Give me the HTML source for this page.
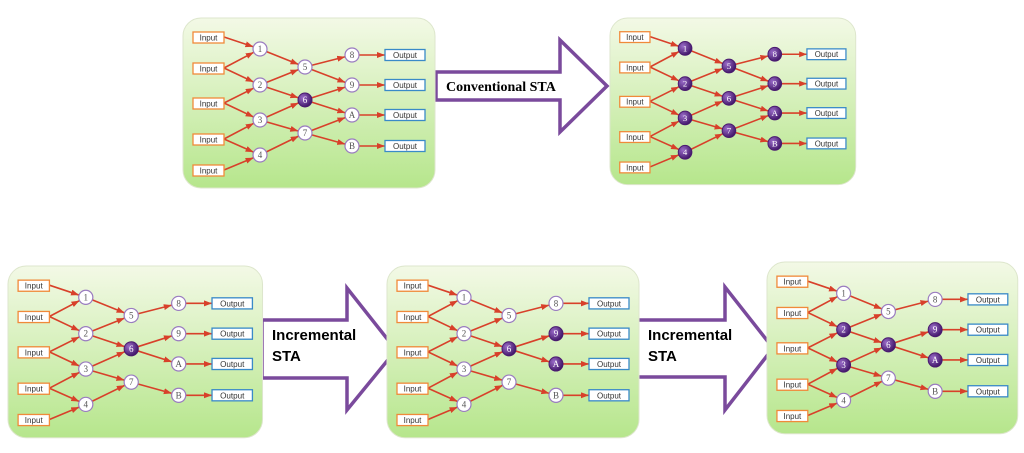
<!DOCTYPE html>
<html><head><meta charset="utf-8"><style>
body{margin:0;background:#fff;width:1024px;height:448px;overflow:hidden}
svg text{font-family:"Liberation Sans",sans-serif}
.in{fill:#fff;stroke:#f08a3a;stroke-width:1.3}
.out{fill:#fff;stroke:#3a8ac8;stroke-width:1.3}
.bt{font-size:8px;fill:#333;text-anchor:middle}
.n{fill:#fff;stroke:#9a7cc0;stroke-width:1.2}
.f{fill:url(#pg);stroke:#4a1a70;stroke-width:1}
.nt{font-family:"Liberation Serif",serif!important;font-size:9px;text-anchor:middle;fill:#555}
.ft{fill:#fff}
.l{stroke:#d8402a;stroke-width:1.6;fill:none;marker-end:url(#ah)}
.lo{stroke:#d8402a;stroke-width:1.6;fill:none;marker-end:url(#ao)}
</style></head><body>
<svg width="1024" height="448" viewBox="0 0 1024 448" xmlns="http://www.w3.org/2000/svg">
<defs>
<linearGradient id="bg" x1="0" y1="0" x2="0" y2="1"><stop offset="0" stop-color="#f3f9e6"/><stop offset="1" stop-color="#b6e68c"/></linearGradient>
<radialGradient id="pg" cx="0.35" cy="0.35" r="0.7"><stop offset="0" stop-color="#9a6cc8"/><stop offset="1" stop-color="#3e1466"/></radialGradient>
<marker id="ah" markerUnits="userSpaceOnUse" markerWidth="10" markerHeight="8" refX="15" refY="3" orient="auto"><path d="M0,0 L8,3 L0,6 z" fill="#d8402a"/></marker>
<marker id="ao" markerUnits="userSpaceOnUse" markerWidth="10" markerHeight="8" refX="8" refY="3" orient="auto"><path d="M0,0 L8,3 L0,6 z" fill="#d8402a"/></marker>
</defs>

<!-- Arrows -->
<path d="M436,72 H560 V40 L607,86 L560,132 V100 H436 Z" fill="#fff" stroke="#7a4a9c" stroke-width="3.5"/>
<text x="446" y="91" style="font-family:'Liberation Serif',serif;font-weight:bold;font-size:14px">Conventional STA</text>
<path d="M262,320 H347 V288 L396,350 L347,410 V378 H262 Z" fill="#fff" stroke="#7a4a9c" stroke-width="3.5"/>
<text x="272" y="340" style="font-weight:bold;font-size:15px">Incremental</text>
<text x="272" y="361" style="font-weight:bold;font-size:15px">STA</text>
<path d="M637,320 H725 V287 L773,348 L725,410 V377 H637 Z" fill="#fff" stroke="#7a4a9c" stroke-width="3.5"/>
<text x="648" y="340" style="font-weight:bold;font-size:15px">Incremental</text>
<text x="648" y="361" style="font-weight:bold;font-size:15px">STA</text>

<!-- Panel 1 -->
<g transform="translate(183,18)">
<rect x="0" y="0" width="252" height="170" rx="18" fill="url(#bg)" stroke="#dde6cc"/>
<line class="l" x1="41" y1="19" x2="77" y2="31"/><line class="l" x1="41" y1="50" x2="77" y2="31"/><line class="l" x1="41" y1="50" x2="77" y2="67"/><line class="l" x1="41" y1="85" x2="77" y2="67"/><line class="l" x1="41" y1="85" x2="77" y2="102"/><line class="l" x1="41" y1="121" x2="77" y2="102"/><line class="l" x1="41" y1="121" x2="77" y2="137"/><line class="l" x1="41" y1="152" x2="77" y2="137"/>
<line class="l" x1="77" y1="31" x2="122" y2="49"/><line class="l" x1="77" y1="67" x2="122" y2="49"/><line class="l" x1="77" y1="67" x2="122" y2="82"/><line class="l" x1="77" y1="102" x2="122" y2="82"/><line class="l" x1="77" y1="102" x2="122" y2="115"/><line class="l" x1="77" y1="137" x2="122" y2="115"/>
<line class="l" x1="122" y1="49" x2="169" y2="37"/><line class="l" x1="122" y1="49" x2="169" y2="67"/><line class="l" x1="122" y1="82" x2="169" y2="67"/><line class="l" x1="122" y1="82" x2="169" y2="97"/><line class="l" x1="122" y1="115" x2="169" y2="97"/><line class="l" x1="122" y1="115" x2="169" y2="128"/>
<line class="lo" x1="176" y1="37" x2="202" y2="37"/><line class="lo" x1="176" y1="67" x2="202" y2="67"/><line class="lo" x1="176" y1="97" x2="202" y2="97"/><line class="lo" x1="176" y1="128" x2="202" y2="128"/>
<rect class="in" x="10" y="14" width="31" height="11"/><text class="bt" x="25.5" y="22.5">Input</text>
<rect class="in" x="10" y="45" width="31" height="11"/><text class="bt" x="25.5" y="53.5">Input</text>
<rect class="in" x="10" y="80" width="31" height="11"/><text class="bt" x="25.5" y="88.5">Input</text>
<rect class="in" x="10" y="116" width="31" height="11"/><text class="bt" x="25.5" y="124.5">Input</text>
<rect class="in" x="10" y="147" width="31" height="11"/><text class="bt" x="25.5" y="155.5">Input</text>
<rect class="out" x="202" y="31.5" width="40" height="11"/><text class="bt" x="222" y="40">Output</text>
<rect class="out" x="202" y="61.5" width="40" height="11"/><text class="bt" x="222" y="70">Output</text>
<rect class="out" x="202" y="91.5" width="40" height="11"/><text class="bt" x="222" y="100">Output</text>
<rect class="out" x="202" y="122.5" width="40" height="11"/><text class="bt" x="222" y="131">Output</text>
<circle class="n" cx="77" cy="31" r="7"/><text class="nt" x="77" y="34">1</text>
<circle class="n" cx="77" cy="67" r="7"/><text class="nt" x="77" y="70">2</text>
<circle class="n" cx="77" cy="102" r="7"/><text class="nt" x="77" y="105">3</text>
<circle class="n" cx="77" cy="137" r="7"/><text class="nt" x="77" y="140">4</text>
<circle class="n" cx="122" cy="49" r="7"/><text class="nt" x="122" y="52">5</text>
<circle class="f" cx="122" cy="82" r="7"/><text class="nt ft" x="122" y="85">6</text>
<circle class="n" cx="122" cy="115" r="7"/><text class="nt" x="122" y="118">7</text>
<circle class="n" cx="169" cy="37" r="7"/><text class="nt" x="169" y="40">8</text>
<circle class="n" cx="169" cy="67" r="7"/><text class="nt" x="169" y="70">9</text>
<circle class="n" cx="169" cy="97" r="7"/><text class="nt" x="169" y="100">A</text>
<circle class="n" cx="169" cy="128" r="7"/><text class="nt" x="169" y="131">B</text>
</g>

<!-- Panel 2 -->
<g transform="translate(610,18) scale(0.975,0.98)">
<rect x="0" y="0" width="252" height="170" rx="18" fill="url(#bg)" stroke="#dde6cc"/>
<line class="l" x1="41" y1="19" x2="77" y2="31"/><line class="l" x1="41" y1="50" x2="77" y2="31"/><line class="l" x1="41" y1="50" x2="77" y2="67"/><line class="l" x1="41" y1="85" x2="77" y2="67"/><line class="l" x1="41" y1="85" x2="77" y2="102"/><line class="l" x1="41" y1="121" x2="77" y2="102"/><line class="l" x1="41" y1="121" x2="77" y2="137"/><line class="l" x1="41" y1="152" x2="77" y2="137"/>
<line class="l" x1="77" y1="31" x2="122" y2="49"/><line class="l" x1="77" y1="67" x2="122" y2="49"/><line class="l" x1="77" y1="67" x2="122" y2="82"/><line class="l" x1="77" y1="102" x2="122" y2="82"/><line class="l" x1="77" y1="102" x2="122" y2="115"/><line class="l" x1="77" y1="137" x2="122" y2="115"/>
<line class="l" x1="122" y1="49" x2="169" y2="37"/><line class="l" x1="122" y1="49" x2="169" y2="67"/><line class="l" x1="122" y1="82" x2="169" y2="67"/><line class="l" x1="122" y1="82" x2="169" y2="97"/><line class="l" x1="122" y1="115" x2="169" y2="97"/><line class="l" x1="122" y1="115" x2="169" y2="128"/>
<line class="lo" x1="176" y1="37" x2="202" y2="37"/><line class="lo" x1="176" y1="67" x2="202" y2="67"/><line class="lo" x1="176" y1="97" x2="202" y2="97"/><line class="lo" x1="176" y1="128" x2="202" y2="128"/>
<rect class="in" x="10" y="14" width="31" height="11"/><text class="bt" x="25.5" y="22.5">Input</text>
<rect class="in" x="10" y="45" width="31" height="11"/><text class="bt" x="25.5" y="53.5">Input</text>
<rect class="in" x="10" y="80" width="31" height="11"/><text class="bt" x="25.5" y="88.5">Input</text>
<rect class="in" x="10" y="116" width="31" height="11"/><text class="bt" x="25.5" y="124.5">Input</text>
<rect class="in" x="10" y="147" width="31" height="11"/><text class="bt" x="25.5" y="155.5">Input</text>
<rect class="out" x="202" y="31.5" width="40" height="11"/><text class="bt" x="222" y="40">Output</text>
<rect class="out" x="202" y="61.5" width="40" height="11"/><text class="bt" x="222" y="70">Output</text>
<rect class="out" x="202" y="91.5" width="40" height="11"/><text class="bt" x="222" y="100">Output</text>
<rect class="out" x="202" y="122.5" width="40" height="11"/><text class="bt" x="222" y="131">Output</text>
<circle class="f" cx="77" cy="31" r="7"/><text class="nt ft" x="77" y="34">1</text>
<circle class="f" cx="77" cy="67" r="7"/><text class="nt ft" x="77" y="70">2</text>
<circle class="f" cx="77" cy="102" r="7"/><text class="nt ft" x="77" y="105">3</text>
<circle class="f" cx="77" cy="137" r="7"/><text class="nt ft" x="77" y="140">4</text>
<circle class="f" cx="122" cy="49" r="7"/><text class="nt ft" x="122" y="52">5</text>
<circle class="f" cx="122" cy="82" r="7"/><text class="nt ft" x="122" y="85">6</text>
<circle class="f" cx="122" cy="115" r="7"/><text class="nt ft" x="122" y="118">7</text>
<circle class="f" cx="169" cy="37" r="7"/><text class="nt ft" x="169" y="40">8</text>
<circle class="f" cx="169" cy="67" r="7"/><text class="nt ft" x="169" y="70">9</text>
<circle class="f" cx="169" cy="97" r="7"/><text class="nt ft" x="169" y="100">A</text>
<circle class="f" cx="169" cy="128" r="7"/><text class="nt ft" x="169" y="131">B</text>
</g>

<!-- Panel 3 -->
<g transform="translate(8,266) scale(1.01,1.01)">
<rect x="0" y="0" width="252" height="170" rx="18" fill="url(#bg)" stroke="#dde6cc"/>
<line class="l" x1="41" y1="19" x2="77" y2="31"/><line class="l" x1="41" y1="50" x2="77" y2="31"/><line class="l" x1="41" y1="50" x2="77" y2="67"/><line class="l" x1="41" y1="85" x2="77" y2="67"/><line class="l" x1="41" y1="85" x2="77" y2="102"/><line class="l" x1="41" y1="121" x2="77" y2="102"/><line class="l" x1="41" y1="121" x2="77" y2="137"/><line class="l" x1="41" y1="152" x2="77" y2="137"/>
<line class="l" x1="77" y1="31" x2="122" y2="49"/><line class="l" x1="77" y1="67" x2="122" y2="49"/><line class="l" x1="77" y1="67" x2="122" y2="82"/><line class="l" x1="77" y1="102" x2="122" y2="82"/><line class="l" x1="77" y1="102" x2="122" y2="115"/><line class="l" x1="77" y1="137" x2="122" y2="115"/>
<line class="l" x1="122" y1="49" x2="169" y2="37"/><line class="l" x1="122" y1="82" x2="169" y2="67"/><line class="l" x1="122" y1="82" x2="169" y2="97"/><line class="l" x1="122" y1="115" x2="169" y2="128"/>
<line class="lo" x1="176" y1="37" x2="202" y2="37"/><line class="lo" x1="176" y1="67" x2="202" y2="67"/><line class="lo" x1="176" y1="97" x2="202" y2="97"/><line class="lo" x1="176" y1="128" x2="202" y2="128"/>
<rect class="in" x="10" y="14" width="31" height="11"/><text class="bt" x="25.5" y="22.5">Input</text>
<rect class="in" x="10" y="45" width="31" height="11"/><text class="bt" x="25.5" y="53.5">Input</text>
<rect class="in" x="10" y="80" width="31" height="11"/><text class="bt" x="25.5" y="88.5">Input</text>
<rect class="in" x="10" y="116" width="31" height="11"/><text class="bt" x="25.5" y="124.5">Input</text>
<rect class="in" x="10" y="147" width="31" height="11"/><text class="bt" x="25.5" y="155.5">Input</text>
<rect class="out" x="202" y="31.5" width="40" height="11"/><text class="bt" x="222" y="40">Output</text>
<rect class="out" x="202" y="61.5" width="40" height="11"/><text class="bt" x="222" y="70">Output</text>
<rect class="out" x="202" y="91.5" width="40" height="11"/><text class="bt" x="222" y="100">Output</text>
<rect class="out" x="202" y="122.5" width="40" height="11"/><text class="bt" x="222" y="131">Output</text>
<circle class="n" cx="77" cy="31" r="7"/><text class="nt" x="77" y="34">1</text>
<circle class="n" cx="77" cy="67" r="7"/><text class="nt" x="77" y="70">2</text>
<circle class="n" cx="77" cy="102" r="7"/><text class="nt" x="77" y="105">3</text>
<circle class="n" cx="77" cy="137" r="7"/><text class="nt" x="77" y="140">4</text>
<circle class="n" cx="122" cy="49" r="7"/><text class="nt" x="122" y="52">5</text>
<circle class="f" cx="122" cy="82" r="7"/><text class="nt ft" x="122" y="85">6</text>
<circle class="n" cx="122" cy="115" r="7"/><text class="nt" x="122" y="118">7</text>
<circle class="n" cx="169" cy="37" r="7"/><text class="nt" x="169" y="40">8</text>
<circle class="n" cx="169" cy="67" r="7"/><text class="nt" x="169" y="70">9</text>
<circle class="n" cx="169" cy="97" r="7"/><text class="nt" x="169" y="100">A</text>
<circle class="n" cx="169" cy="128" r="7"/><text class="nt" x="169" y="131">B</text>
</g>

<!-- Panel 4 -->
<g transform="translate(387,266) scale(1.0,1.01)">
<rect x="0" y="0" width="252" height="170" rx="18" fill="url(#bg)" stroke="#dde6cc"/>
<line class="l" x1="41" y1="19" x2="77" y2="31"/><line class="l" x1="41" y1="50" x2="77" y2="31"/><line class="l" x1="41" y1="50" x2="77" y2="67"/><line class="l" x1="41" y1="85" x2="77" y2="67"/><line class="l" x1="41" y1="85" x2="77" y2="102"/><line class="l" x1="41" y1="121" x2="77" y2="102"/><line class="l" x1="41" y1="121" x2="77" y2="137"/><line class="l" x1="41" y1="152" x2="77" y2="137"/>
<line class="l" x1="77" y1="31" x2="122" y2="49"/><line class="l" x1="77" y1="67" x2="122" y2="49"/><line class="l" x1="77" y1="67" x2="122" y2="82"/><line class="l" x1="77" y1="102" x2="122" y2="82"/><line class="l" x1="77" y1="102" x2="122" y2="115"/><line class="l" x1="77" y1="137" x2="122" y2="115"/>
<line class="l" x1="122" y1="49" x2="169" y2="37"/><line class="l" x1="122" y1="82" x2="169" y2="67"/><line class="l" x1="122" y1="82" x2="169" y2="97"/><line class="l" x1="122" y1="115" x2="169" y2="128"/>
<line class="lo" x1="176" y1="37" x2="202" y2="37"/><line class="lo" x1="176" y1="67" x2="202" y2="67"/><line class="lo" x1="176" y1="97" x2="202" y2="97"/><line class="lo" x1="176" y1="128" x2="202" y2="128"/>
<rect class="in" x="10" y="14" width="31" height="11"/><text class="bt" x="25.5" y="22.5">Input</text>
<rect class="in" x="10" y="45" width="31" height="11"/><text class="bt" x="25.5" y="53.5">Input</text>
<rect class="in" x="10" y="80" width="31" height="11"/><text class="bt" x="25.5" y="88.5">Input</text>
<rect class="in" x="10" y="116" width="31" height="11"/><text class="bt" x="25.5" y="124.5">Input</text>
<rect class="in" x="10" y="147" width="31" height="11"/><text class="bt" x="25.5" y="155.5">Input</text>
<rect class="out" x="202" y="31.5" width="40" height="11"/><text class="bt" x="222" y="40">Output</text>
<rect class="out" x="202" y="61.5" width="40" height="11"/><text class="bt" x="222" y="70">Output</text>
<rect class="out" x="202" y="91.5" width="40" height="11"/><text class="bt" x="222" y="100">Output</text>
<rect class="out" x="202" y="122.5" width="40" height="11"/><text class="bt" x="222" y="131">Output</text>
<circle class="n" cx="77" cy="31" r="7"/><text class="nt" x="77" y="34">1</text>
<circle class="n" cx="77" cy="67" r="7"/><text class="nt" x="77" y="70">2</text>
<circle class="n" cx="77" cy="102" r="7"/><text class="nt" x="77" y="105">3</text>
<circle class="n" cx="77" cy="137" r="7"/><text class="nt" x="77" y="140">4</text>
<circle class="n" cx="122" cy="49" r="7"/><text class="nt" x="122" y="52">5</text>
<circle class="f" cx="122" cy="82" r="7"/><text class="nt ft" x="122" y="85">6</text>
<circle class="n" cx="122" cy="115" r="7"/><text class="nt" x="122" y="118">7</text>
<circle class="n" cx="169" cy="37" r="7"/><text class="nt" x="169" y="40">8</text>
<circle class="f" cx="169" cy="67" r="7"/><text class="nt ft" x="169" y="70">9</text>
<circle class="f" cx="169" cy="97" r="7"/><text class="nt ft" x="169" y="100">A</text>
<circle class="n" cx="169" cy="128" r="7"/><text class="nt" x="169" y="131">B</text>
</g>

<!-- Panel 5 -->
<g transform="translate(767,262) scale(0.995,1.01)">
<rect x="0" y="0" width="252" height="170" rx="18" fill="url(#bg)" stroke="#dde6cc"/>
<line class="l" x1="41" y1="19" x2="77" y2="31"/><line class="l" x1="41" y1="50" x2="77" y2="31"/><line class="l" x1="41" y1="50" x2="77" y2="67"/><line class="l" x1="41" y1="85" x2="77" y2="67"/><line class="l" x1="41" y1="85" x2="77" y2="102"/><line class="l" x1="41" y1="121" x2="77" y2="102"/><line class="l" x1="41" y1="121" x2="77" y2="137"/><line class="l" x1="41" y1="152" x2="77" y2="137"/>
<line class="l" x1="77" y1="31" x2="122" y2="49"/><line class="l" x1="77" y1="67" x2="122" y2="49"/><line class="l" x1="77" y1="67" x2="122" y2="82"/><line class="l" x1="77" y1="102" x2="122" y2="82"/><line class="l" x1="77" y1="102" x2="122" y2="115"/><line class="l" x1="77" y1="137" x2="122" y2="115"/>
<line class="l" x1="122" y1="49" x2="169" y2="37"/><line class="l" x1="122" y1="82" x2="169" y2="67"/><line class="l" x1="122" y1="82" x2="169" y2="97"/><line class="l" x1="122" y1="115" x2="169" y2="128"/>
<line class="lo" x1="176" y1="37" x2="202" y2="37"/><line class="lo" x1="176" y1="67" x2="202" y2="67"/><line class="lo" x1="176" y1="97" x2="202" y2="97"/><line class="lo" x1="176" y1="128" x2="202" y2="128"/>
<rect class="in" x="10" y="14" width="31" height="11"/><text class="bt" x="25.5" y="22.5">Input</text>
<rect class="in" x="10" y="45" width="31" height="11"/><text class="bt" x="25.5" y="53.5">Input</text>
<rect class="in" x="10" y="80" width="31" height="11"/><text class="bt" x="25.5" y="88.5">Input</text>
<rect class="in" x="10" y="116" width="31" height="11"/><text class="bt" x="25.5" y="124.5">Input</text>
<rect class="in" x="10" y="147" width="31" height="11"/><text class="bt" x="25.5" y="155.5">Input</text>
<rect class="out" x="202" y="31.5" width="40" height="11"/><text class="bt" x="222" y="40">Output</text>
<rect class="out" x="202" y="61.5" width="40" height="11"/><text class="bt" x="222" y="70">Output</text>
<rect class="out" x="202" y="91.5" width="40" height="11"/><text class="bt" x="222" y="100">Output</text>
<rect class="out" x="202" y="122.5" width="40" height="11"/><text class="bt" x="222" y="131">Output</text>
<circle class="n" cx="77" cy="31" r="7"/><text class="nt" x="77" y="34">1</text>
<circle class="f" cx="77" cy="67" r="7"/><text class="nt ft" x="77" y="70">2</text>
<circle class="f" cx="77" cy="102" r="7"/><text class="nt ft" x="77" y="105">3</text>
<circle class="n" cx="77" cy="137" r="7"/><text class="nt" x="77" y="140">4</text>
<circle class="n" cx="122" cy="49" r="7"/><text class="nt" x="122" y="52">5</text>
<circle class="f" cx="122" cy="82" r="7"/><text class="nt ft" x="122" y="85">6</text>
<circle class="n" cx="122" cy="115" r="7"/><text class="nt" x="122" y="118">7</text>
<circle class="n" cx="169" cy="37" r="7"/><text class="nt" x="169" y="40">8</text>
<circle class="f" cx="169" cy="67" r="7"/><text class="nt ft" x="169" y="70">9</text>
<circle class="f" cx="169" cy="97" r="7"/><text class="nt ft" x="169" y="100">A</text>
<circle class="n" cx="169" cy="128" r="7"/><text class="nt" x="169" y="131">B</text>
</g>
</svg>
</body></html>
